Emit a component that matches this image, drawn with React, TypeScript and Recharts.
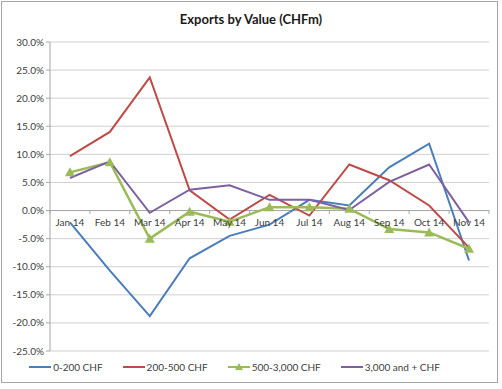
import { CartesianGrid, Legend, Line, LineChart, ReferenceLine, XAxis, YAxis } from "recharts";

const months = ["Jan 14", "Feb 14", "Mar 14", "Apr 14", "May 14", "Jun 14", "Jul 14", "Aug 14", "Sep 14", "Oct 14", "Nov 14"];
const chf0to200 = [-2.1, -10.7, -18.8, -8.5, -4.5, -2.5, 1.9, 0.9, 7.7, 11.9, -8.9];
const chf200to500 = [9.7, 14.0, 23.7, 3.6, -1.6, 2.8, -0.9, 8.2, 5.4, 0.9, -6.6];
const chf500to3000 = [6.8, 8.6, -5.0, -0.2, -2.0, 0.6, 0.6, 0.3, -3.3, -3.9, -6.8];
const chf3000plus = [5.8, 8.75, -0.4, 3.7, 4.5, 1.9, 1.9, 0.1, 5.1, 8.2, -2.1];
const yTicks = [-25, -20, -15, -10, -5, 0, 5, 10, 15, 20, 25, 30];

const data = months.map((m, i) => ({
  month: m,
  a: chf0to200[i],
  b: chf200to500[i],
  c: chf500to3000[i],
  d: chf3000plus[i],
}));

const W = 502;
const H = 389;
const TOP = 42;
const LEFT = 50;
const RIGHT = 13;
const PLOT_H = 308;
const FONT = "Lato, 'Open Sans', sans-serif";
const Y_MIN = -25;
const Y_MAX = 30;

const zeroY = TOP + (PLOT_H * Y_MAX) / (Y_MAX - Y_MIN);
const band = (W - LEFT - RIGHT) / months.length;

function XTick(props: any) {
  const { x, payload, index } = props;
  return (
    <g>
      <line x1={x - band / 2} x2={x - band / 2} y1={zeroY} y2={zeroY + 4} stroke="#a6a6a6" />
      {index === months.length - 1 && (
        <line x1={x + band / 2} x2={x + band / 2} y1={zeroY} y2={zeroY + 4} stroke="#a6a6a6" />
      )}
      <text x={x} y={zeroY + 16} textAnchor="middle" fontSize={10} fontFamily={FONT} fill="#404040">
        {payload.value}
      </text>
    </g>
  );
}

function Triangle(props: any) {
  const { cx, cy } = props;
  if (cx == null || cy == null) return null;
  return <path d={`M${cx},${cy - 5} L${cx + 5},${cy + 4} L${cx - 5},${cy + 4} Z`} fill="#9bbb59" />;
}

function LegendContent(props: any) {
  const { payload } = props;
  return (
    <div style={{ display: "flex", justifyContent: "center", fontFamily: FONT, fontSize: 10, color: "#404040" }}>
      {(payload || []).map((p: any) => (
        <div key={p.value} style={{ display: "flex", alignItems: "center", marginRight: 20 }}>
          <svg width={22} height={10} style={{ marginRight: 2 }}>
            <line x1={0} x2={22} y1={5} y2={5} stroke={p.color} strokeWidth={2} />
            {p.dataKey === "c" && <path d="M11,1 L15,8 L7,8 Z" fill={p.color} />}
          </svg>
          <span>{p.value}</span>
        </div>
      ))}
    </div>
  );
}

export default function App() {
  return (
    <div style={{ position: "absolute", left: 0, top: 0, width: W, height: H, background: "#fff" }}>
      <div
        style={{
          position: "absolute",
          left: 1,
          top: 1,
          width: 497,
          height: 382,
          border: "1px solid #a6a6a6",
          boxSizing: "border-box",
        }}
      />
      <div
        style={{
          position: "absolute",
          left: 0,
          top: 11,
          width: W,
          textAlign: "center",
          fontFamily: FONT,
          fontWeight: 700,
          fontSize: 13,
          color: "#1a1a1a",
        }}
      >
        Exports by Value (CHFm)
      </div>
      <div style={{ position: "absolute", left: 0, top: 0 }}>
        <LineChart width={W} height={H} data={data} margin={{ top: TOP, right: RIGHT, left: 0, bottom: 16 }}>
          <CartesianGrid vertical={false} stroke="#d0d0d0" />
          <XAxis
            dataKey="month"
            scale="band"
            axisLine={false}
            tickLine={false}
            height={10}
            tick={<XTick />}
            interval={0}
          />
          <YAxis
            domain={[Y_MIN, Y_MAX]}
            ticks={yTicks}
            width={LEFT}
            tickFormatter={(v: number) => `${v.toFixed(1)}%`}
            tick={{ fontSize: 10, fontFamily: FONT, fill: "#404040" }}
            axisLine={{ stroke: "#a6a6a6" }}
            tickLine={{ stroke: "#a6a6a6" }}
            tickSize={4}
            allowDataOverflow
          />
          <ReferenceLine y={0} stroke="#a6a6a6" />
          <Legend verticalAlign="bottom" itemSorter="dataKey" content={<LegendContent />} />
          <Line dataKey="a" name="0-200 CHF" stroke="#4a7ebb" strokeWidth={2} dot={false} activeDot={false} isAnimationActive={false} />
          <Line dataKey="b" name="200-500 CHF" stroke="#be4b48" strokeWidth={2} dot={false} activeDot={false} isAnimationActive={false} />
          <Line dataKey="c" name="500-3,000 CHF" stroke="#9bbb59" strokeWidth={2.5} dot={<Triangle />} activeDot={false} isAnimationActive={false} />
          <Line dataKey="d" name="3,000 and + CHF" stroke="#7d60a0" strokeWidth={2} dot={false} activeDot={false} isAnimationActive={false} />
        </LineChart>
      </div>
    </div>
  );
}
